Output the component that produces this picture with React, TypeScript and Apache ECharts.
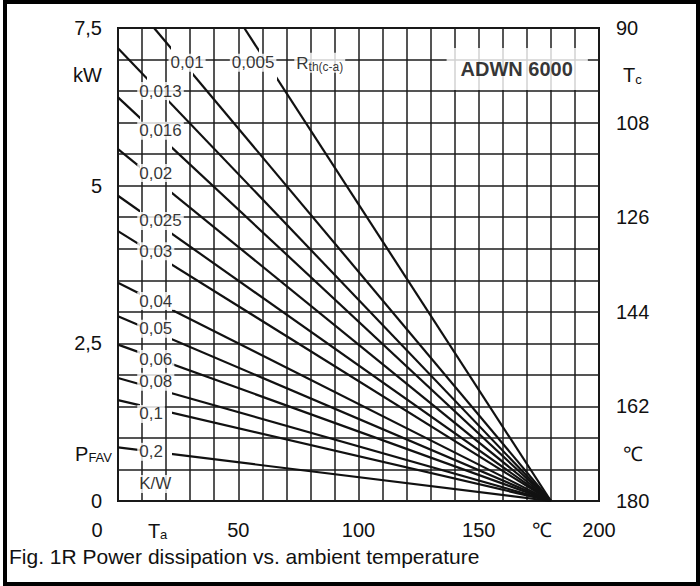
import React, { useEffect, useRef } from 'react';
import * as echarts from 'echarts';

// ---- data ----
const rthValues = [0.005, 0.01, 0.013, 0.016, 0.02, 0.025, 0.03, 0.04, 0.05, 0.06, 0.08, 0.1, 0.2];
const rthLabelTexts = ['0,005', '0,01', '0,013', '0,016', '0,02', '0,025', '0,03', '0,04', '0,05', '0,06', '0,08', '0,1', '0,2'];
// start point of every line (ambient temperature °C, power kW)
const lineStartTa = [52.5, 15, 0, 0, 0, 0, 0, 0, 0, 0, 0, 0, 0];
const lineStartP = [7.5, 7.5, 7.18, 6.4, 5.58, 4.84, 4.28, 3.46, 2.93, 2.48, 1.95, 1.6, 0.85];
// all lines meet here
const lineEndTa = 180;
const lineEndP = 0;

// tick labels
const bottomLabelValues = [0, 20, 50, 100, 150, 180, 200];
const bottomLabelTexts = ['0', 'T_a', '50', '100', '150', '℃', '200'];
const leftLabelValues = [0, 0.75, 2.5, 5, 6.75, 7.5];
const leftLabelTexts = ['0', 'P_FAV', '2,5', '5', 'kW', '7,5'];
const rightLabelValues = [90, 99, 108, 126, 144, 162, 171, 180];
const rightLabelTexts = ['90', 'T_c', '108', '126', '144', '162', '℃', '180'];

const captionText = 'Fig. 1R Power dissipation vs. ambient temperature';

// ---- annotation anchors (data coordinates) ----
const rthLabelTa = [46.5, 21, 8, 8, 8, 8, 8, 8, 8, 8, 8, 8, 8];
const rthLabelP = [6.95, 6.95, 6.5, 5.87, 5.2, 4.44, 3.96, 3.17, 2.73, 2.25, 1.89, 1.38, 0.78];

// ---- styling ----
const INK = '#111';
const GRIDC = '#1c1c1c';
const FONT = "'Liberation Sans', Arial, Helvetica, sans-serif";
const gaps = [
  { series: [0], from: 58.5, to: 66 },
  { series: [1], from: 22, to: 31 },
  { series: [2], from: 12, to: 21 },
  { series: [3, 4, 5, 6, 7, 8, 9, 10, 11, 12], from: 9, to: 22.5 },
];

const near = (a: number, b: number) => Math.abs(a - b) < 1e-6;

const main = { fontSize: 20, fontFamily: FONT, color: INK };
const subS = { fontSize: 13, fontFamily: FONT, color: INK, padding: [8, 0, 0, 0] };

function splitSub(t: string) {
  const k = t.indexOf('_');
  return k < 0 ? [t, ''] : [t.slice(0, k), t.slice(k + 1)];
}

function buildOption() {
  const lineSeries = rthValues.map((r, i) => ({
    type: 'line',
    name: rthLabelTexts[i],
    color: INK,
    data: [
      [lineStartTa[i], lineStartP[i]],
      [lineEndTa, lineEndP],
    ],
    xAxisIndex: 0,
    yAxisIndex: 0,
    symbol: 'none',
    showSymbol: false,
    silent: true,
    lineStyle: { width: 2.2 },
    z: 3,
  }));

  const smallLabel = {
    show: true,
    position: 'right',
    distance: 0,
    fontSize: 17,
    fontFamily: FONT,
    color: '#000',
    backgroundColor: '#fff',
    padding: [1, 2, 0, 2],
    formatter: '{b}',
  };

  const annotations: any[] = rthLabelTexts.map((t, i) => ({
    value: [rthLabelTa[i], rthLabelP[i]],
    name: t,
  }));
  annotations.push({
    value: [73.3, 6.95],
    name: 'Rth',
    label: {
      ...smallLabel,
      formatter: '{r|R}{rs|th(c-a)}',
      rich: {
        r: { fontSize: 17, fontFamily: FONT, color: '#000' },
        rs: { fontSize: 12, fontFamily: FONT, color: '#000', padding: [7, 0, 0, 0] },
      },
    },
  });
  annotations.push({ value: [8, 0.27], name: 'K/W' });
  annotations.push({
    value: [166, 6.85],
    name: 'ADWN 6000',
    label: {
      show: true,
      position: 'inside',
      fontSize: 20,
      fontWeight: 'bold',
      fontFamily: FONT,
      color: '#000',
      backgroundColor: '#fff',
      padding: [11, 15, 11, 14],
      formatter: '{b}',
    },
  });

  const labelSeries = {
    type: 'scatter',
    xAxisIndex: 0,
    yAxisIndex: 0,
    symbolSize: 0,
    silent: true,
    z: 5,
    label: smallLabel,
    data: annotations,
  };

  return {
    animation: false,
    backgroundColor: '#fff',
    title: {
      text: captionText,
      left: 9,
      top: 546,
      padding: 0,
      textStyle: { fontSize: 21, fontWeight: 'normal', color: INK, fontFamily: FONT },
    },
    grid: {
      left: 118,
      top: 28,
      right: 101,
      bottom: 85,
      show: true,
      borderColor: INK,
      borderWidth: 2,
      backgroundColor: 'transparent',
    },
    visualMap: gaps.map((g) => ({
      type: 'piecewise',
      show: false,
      dimension: 0,
      seriesIndex: g.series,
      pieces: [
        { lt: g.from, color: INK },
        { gte: g.from, lte: g.to, color: 'rgba(255,255,255,0)' },
        { gt: g.to, color: INK },
      ],
    })),
    xAxis: [
      {
        type: 'value',
        min: 0,
        max: 200,
        interval: 10,
        axisLine: { show: false },
        axisTick: { show: false },
        splitLine: { show: true, lineStyle: { color: GRIDC, width: 1.5 } },
        axisLabel: {
          margin: 19,
          formatter: (v: number) => {
            const i = bottomLabelValues.findIndex((b) => near(b, v));
            if (i < 0) return '';
            const [a, b] = splitSub(bottomLabelTexts[i]);
            if (near(v, 0)) return `{x0|${a}}`;
            if (b) return `{m|${a}}{sa|${b}}`;
            if (near(v, 180)) return `{dg|${a}}`;
            return `{m|${a}}`;
          },
          rich: {
            m: main,
            x0: { ...main, padding: [0, 42, 0, 0] },
            dg: { ...main, padding: [0, 17, 0, 0] },
            sa: { ...subS, padding: [8, 17, 0, 0] },
          },
        },
      },
    ],
    yAxis: [
      {
        type: 'value',
        min: 0,
        max: 7.5,
        interval: 0.5,
        position: 'left',
        axisLine: { show: false },
        axisTick: { show: false },
        axisLabel: { show: false },
        splitLine: { show: true, lineStyle: { color: GRIDC, width: 1.5 } },
      },
      {
        type: 'value',
        min: 0,
        max: 7.5,
        interval: 0.25,
        position: 'left',
        axisLine: { show: false },
        axisTick: { show: false },
        splitLine: { show: false },
        axisLabel: {
          margin: 6,
          formatter: (v: number) => {
            const i = leftLabelValues.findIndex((b) => near(b, v));
            if (i < 0) return '';
            const [a, b] = splitSub(leftLabelTexts[i]);
            if (b) return `{m|${a}}{s|${b}}`;
            return `{mr|${a}}`;
          },
          rich: {
            m: main,
            mr: { ...main, padding: [0, 10, 0, 0] },
            s: subS,
          },
        },
      },
      {
        type: 'value',
        min: 90,
        max: 180,
        interval: 9,
        inverse: true,
        position: 'right',
        axisLine: { show: false },
        axisTick: { show: false },
        splitLine: { show: false },
        axisLabel: {
          margin: 17,
          formatter: (v: number) => {
            const i = rightLabelValues.findIndex((b) => near(b, v));
            if (i < 0) return '';
            const [a, b] = splitSub(rightLabelTexts[i]);
            if (b) return `{mi|${a}}{s|${b}}`;
            if (a === '℃') return `{mi|${a}}`;
            return `{m|${a}}`;
          },
          rich: {
            m: main,
            mi: { ...main, padding: [0, 0, 0, 7] },
            s: subS,
          },
        },
      },
    ],
    series: [...lineSeries, labelSeries],
  };
}

export default function App() {
  const ref = useRef<HTMLDivElement>(null);
  useEffect(() => {
    if (!ref.current) return;
    const chart = echarts.init(ref.current, null, { renderer: 'svg' });
    chart.setOption(buildOption() as any);
    return () => chart.dispose();
  }, []);
  return (
    <div style={{ position: 'absolute', left: 0, top: 0, width: 700, height: 586, background: '#fff' }}>
      <div ref={ref} style={{ width: 700, height: 586 }} />
      <div
        style={{
          position: 'absolute',
          left: 3,
          top: 0,
          width: 697,
          height: 586,
          border: '4px solid #000',
          boxSizing: 'border-box',
          pointerEvents: 'none',
        }}
      />
    </div>
  );
}
